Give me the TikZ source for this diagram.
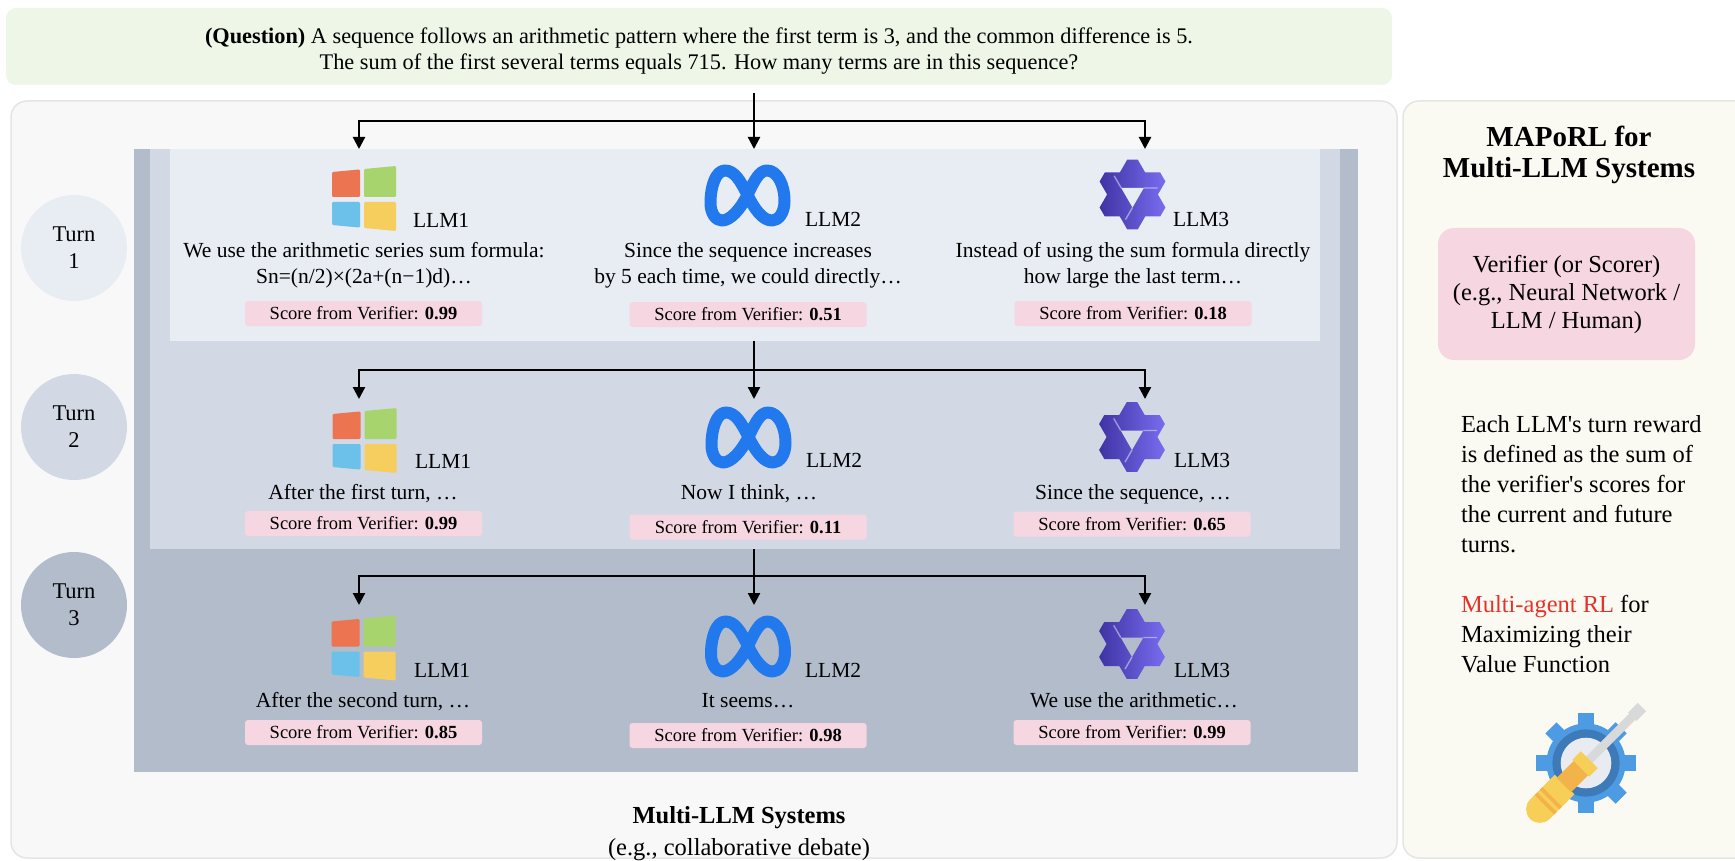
\documentclass[tikz,border=0pt]{standalone}
\usepackage{fontspec}
\setmainfont{Liberation Serif}
\newfontfamily\straightserif{Liberation Serif}[Ligatures=TeXOff]
\usetikzlibrary{arrows.meta}

% palette
\definecolor{qgreen}{HTML}{EDF6E7}
\definecolor{leftbg}{HTML}{F8F8F8}
\definecolor{rightbg}{HTML}{FAFAF2}
\definecolor{panelrule}{HTML}{E5E5E5}
\definecolor{toneA}{HTML}{E8ECF3}
\definecolor{toneB}{HTML}{D2D9E5}
\definecolor{toneC}{HTML}{B2BCCB}
\definecolor{scorepink}{HTML}{F6D6E0}
\definecolor{rlred}{HTML}{E5322B}
\definecolor{winorange}{HTML}{EC7451}
\definecolor{wingreen}{HTML}{A8D46E}
\definecolor{winblue}{HTML}{6CC1EA}
\definecolor{winyellow}{HTML}{F6CE5D}
\definecolor{metablue}{HTML}{2279EE}
\definecolor{qwenlight}{HTML}{7D71F5}
\definecolor{qwendark}{HTML}{3B2F9E}
\definecolor{gearblue}{HTML}{4D9BE3}
\definecolor{geardark}{HTML}{3E79B8}
\definecolor{gearcore}{HTML}{E8EBF0}
\definecolor{shaftgray}{HTML}{D8D9DB}
\definecolor{handleyellow}{HTML}{F7CF58}
\definecolor{handleorange}{HTML}{F1B34A}

\newcommand\qwenholecolor{toneA}

\tikzset{
  qwenhole/.code={\renewcommand\qwenholecolor{#1}},
  % four-pane window mark
  winlogo/.pic={
    \begin{scope}[rounded corners=1.2pt]
      \fill[winorange] (-32,-26.5) -- (-4,-29.1) -- (-4,-1.5) -- (-32,-1.5) -- cycle;
      \fill[wingreen] (0,-29.5) -- (32,-32.5) -- (32,-1.5) -- (0,-1.5) -- cycle;
      \fill[winblue] (-32,3.5) -- (-4,3.5) -- (-4,29.1) -- (-32,26.5) -- cycle;
      \fill[winyellow] (0,3.5) -- (32,3.5) -- (32,32.5) -- (0,29.5) -- cycle;
    \end{scope}
  },
  % infinity loop mark
  metalogo/.pic={
    \draw[metablue, line width=12pt, line join=round]
      (0,0) .. controls (7,-15) and (12,-24.5) .. (19.5,-24.5)
      .. controls (30,-24.5) and (37,-10) .. (37,6)
      .. controls (37,18) and (31,25.5) .. (24.5,25.5)
      .. controls (15,25.5) and (7,14) .. (0,0)
      .. controls (-7,-14) and (-13,-24.5) .. (-22.5,-24.5)
      .. controls (-32,-24.5) and (-37,-8) .. (-37,8)
      .. controls (-37,18) and (-32,25.5) .. (-25.5,25.5)
      .. controls (-17,25.5) and (-7,14) .. (0,0) -- cycle;
  },
  % truncated star mark with a triangular opening
  qwenlogo/.pic={
    \begin{scope}
      \clip (0:40.4) -- (60:40.4) -- (120:40.4) -- (180:40.4) -- (240:40.4) -- (300:40.4) -- cycle;
      \shade[left color=qwendark, right color=qwenlight]
        (90:44) -- (210:44) -- (330:44) -- cycle
        (270:44) -- (30:44) -- (150:44) -- cycle;
    \end{scope}
    \fill[\qwenholecolor] (90:13) -- (210:13) -- (330:13) -- cycle;
    \draw[white, opacity=0.45, line width=1.4pt]
      (11.26,-6.5) -- (25,-6.5)
      (-11.26,-6.5) -- (-18.3,-18.6)
      (0,13) -- (-7,25.1);
  },
  % gear with screwdriver
  gearicon/.pic={
    \fill[gearblue] (0,0) circle[radius=43pt];
    \foreach \a in {0,45,...,315}
      \fill[gearblue, rotate=\a] (30,-8.5) rectangle (54,8.5);
    \fill[geardark] (0,0) circle[radius=36.5pt];
    \fill[gearcore] (0,0) circle[radius=27.5pt];
    \begin{scope}[rotate=45]
      \fill[shaftgray] (4,-4.7) rectangle (74,4.7);
      \fill[shaftgray] (71,-6.5) rectangle (86,6.5);
      \fill[handleyellow, rounded corners=14pt] (-86,-15) rectangle (-30,15);
      \fill[handleyellow] (-50,-15) rectangle (-33,15);
      \fill[handleorange] (-56,-15) rectangle (-52,15);
      \fill[handleorange] (-64,-15) rectangle (-60,15);
      \fill[handleorange] (-34,-11) rectangle (-6,11);
      \fill[handleyellow] (-8,-13) rectangle (5,13);
    \end{scope}
  },
}

\begin{document}
\begin{tikzpicture}[x=1pt, y=-1pt,
  every node/.style={inner sep=0pt, outer sep=0pt},
  bodytxt/.style={font=\fontsize{21.5}{26}\selectfont, align=center},
  llmname/.style={font=\fontsize{21.5}{26}\selectfont, anchor=base west},
  scorebox/.style={fill=scorepink, rounded corners=3pt, minimum width=237pt,
                   minimum height=25pt, font=\fontsize{18.5}{22}\selectfont},
  turnbubble/.style={circle, minimum size=106pt, align=center,
                     font=\fontsize{22.5}{27}\selectfont},
  flowline/.style={line width=2.2pt},
  flow/.style={flowline, -{Triangle[width=12pt,length=12pt]}},
]
\useasboundingbox (0,0) rectangle (1735,861);
\fill[white] (0,0) rectangle (1735,861);

% side panels
\draw[fill=leftbg, draw=panelrule, line width=1.5pt, rounded corners=16pt]
  (11,101) rectangle (1397,858);
\draw[fill=rightbg, draw=panelrule, line width=1.5pt, rounded corners=16pt]
  (1403,101) rectangle (1770,858);

% question banner
\node[fill=qgreen, rounded corners=10pt, minimum width=1386pt, minimum height=77pt] (q) at (699,46.5) {};
\node[anchor=north, align=center, font=\fontsize{22.3}{26.5}\selectfont] (qtext) at (699,27.5)
  {\textbf{(Question)} A sequence follows an arithmetic pattern where the first term is 3, and the common difference is 5.\\
   The sum of the first several terms equals 715. How many terms are in this sequence?};

% nested turn layers
\node[fill=toneC, minimum width=1224pt, minimum height=623pt] (bandC) at (746,460.5) {};
\node[fill=toneB, minimum width=1190pt, minimum height=400pt] (layerB) at (745,349) {};
\node[fill=toneA, minimum width=1150pt, minimum height=192pt] (layerA) at (745,245) {};

% turn markers
\node[turnbubble, fill=toneA] (turn1) at (74,248) {Turn\\1};
\node[turnbubble, fill=toneB] (turn2) at (74,427) {Turn\\2};
\node[turnbubble, fill=toneC] (turn3) at (74,605) {Turn\\3};

% connectors
\coordinate (fork1) at (754,121);
\coordinate (in11) at (359,149);
\coordinate (in12) at (754,149);
\coordinate (in13) at (1145,149);
\draw[flowline, shorten <=8pt] (q.south -| fork1) -- (fork1);
\draw[flow] (fork1) -- (in12);
\draw[flow] (fork1) -| (in11);
\draw[flow] (fork1) -| (in13);

\coordinate (fork2) at (754,370);
\coordinate (in21) at (359,399);
\coordinate (in22) at (754,399);
\coordinate (in23) at (1145,399);
\draw[flowline] (layerA.south -| fork2) -- (fork2);
\draw[flow] (fork2) -- (in22);
\draw[flow] (fork2) -| (in21);
\draw[flow] (fork2) -| (in23);

\coordinate (fork3) at (754,576);
\coordinate (in31) at (359,605);
\coordinate (in32) at (754,605);
\coordinate (in33) at (1145,605);
\draw[flowline] (layerB.south -| fork3) -- (fork3);
\draw[flow] (fork3) -- (in32);
\draw[flow] (fork3) -| (in31);
\draw[flow] (fork3) -| (in33);

% turn 1
\pic at (364,198.5) {winlogo};
\pic at (747.5,195) {metalogo};
\pic[qwenhole=toneA] at (1132.5,194.5) {qwenlogo};
\node[llmname] (n11) at (413,228) {LLM1};
\node[llmname] (n12) at (805,227) {LLM2};
\node[llmname] (n13) at (1173,227) {LLM3};
\node[bodytxt, anchor=north] (x11) at (364,242.2)
  {We use the arithmetic series sum formula:\\Sn=(n/2)×(2a+(n−1)d)…};
\node[bodytxt, anchor=north] (x12) at (748,242.2)
  {Since the sequence increases\\by 5 each time, we could directly…};
\node[bodytxt, anchor=north] (x13) at (1133,242.2)
  {Instead of using the sum formula directly\\how large the last term…};
\node[scorebox] (s11) at (363.5,313.5) {Score from Verifier: \textbf{0.99}};
\node[scorebox] (s12) at (748,314.5) {Score from Verifier: \textbf{0.51}};
\node[scorebox] (s13) at (1133,313.5) {Score from Verifier: \textbf{0.18}};

% turn 2
\pic at (364.5,440.5) {winlogo};
\pic at (748.5,437) {metalogo};
\pic[qwenhole=toneB] at (1132,437) {qwenlogo};
\node[llmname] (n21) at (415,468) {LLM1};
\node[llmname] (n22) at (806,467) {LLM2};
\node[llmname] (n23) at (1174,467) {LLM3};
\node[bodytxt, anchor=base] (x21) at (363,499.5) {After the first turn, …};
\node[bodytxt, anchor=base] (x22) at (749,499.5) {Now I think, …};
\node[bodytxt, anchor=base] (x23) at (1133,499.5) {Since the sequence, …};
\node[scorebox] (s21) at (363.5,523.5) {Score from Verifier: \textbf{0.99}};
\node[scorebox] (s22) at (748,527) {Score from Verifier: \textbf{0.11}};
\node[scorebox] (s23) at (1132,524) {Score from Verifier: \textbf{0.65}};

% turn 3
\pic at (363.5,648) {winlogo};
\pic at (748,646) {metalogo};
\pic[qwenhole=toneC] at (1132,644) {qwenlogo};
\node[llmname] (n31) at (414,677) {LLM1};
\node[llmname] (n32) at (805,677) {LLM2};
\node[llmname] (n33) at (1174,677) {LLM3};
\node[bodytxt, anchor=base] (x31) at (363,707.5) {After the second turn, …};
\node[bodytxt, anchor=base] (x32) at (748,707.5) {It seems…};
\node[bodytxt, anchor=base] (x33) at (1134,707.5) {We use the arithmetic…};
\node[scorebox] (s31) at (363.5,732.5) {Score from Verifier: \textbf{0.85}};
\node[scorebox] (s32) at (748,735.5) {Score from Verifier: \textbf{0.98}};
\node[scorebox] (s33) at (1132,732.5) {Score from Verifier: \textbf{0.99}};

% caption under the layers
\node[anchor=north, align=center, font=\fontsize{24.5}{32}\selectfont] (cap) at (739,806)
  {\textbf{Multi-LLM Systems}\\(e.g., collaborative debate)};

% right-hand panel
\node[anchor=north, align=center, font=\bfseries\fontsize{29}{31}\selectfont] (title) at (1569,126)
  {MAPoRL for\\Multi-LLM Systems};
\node[fill=scorepink, rounded corners=16pt, minimum width=257pt, minimum height=132pt,
      align=center, font=\fontsize{24.5}{28}\selectfont] (verifier) at (1566.5,294)
  {Verifier (or Scorer)\\(e.g., Neural Network /\\LLM / Human)};
\node[anchor=north west, align=left, font={\straightserif\fontsize{24.5}{30}\selectfont}] (reward) at (1461,415.3)
  {Each LLM's turn reward\\is defined as the sum of\\the verifier's scores for\\the current and future\\turns.\\[30pt]
   \textcolor{rlred}{Multi-agent RL} for\\Maximizing their\\Value Function};
\pic[scale=0.92] at (1586,763) {gearicon};
\end{tikzpicture}
\end{document}
